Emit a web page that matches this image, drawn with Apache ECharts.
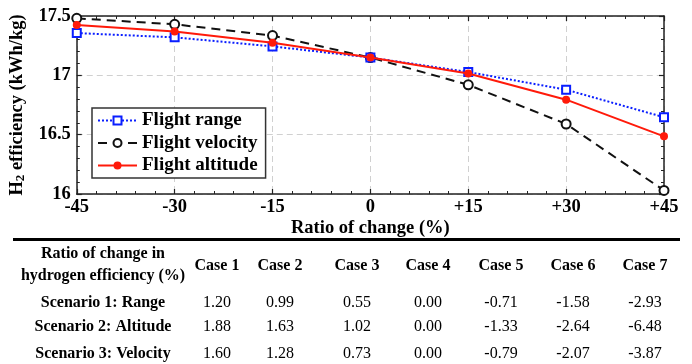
<!DOCTYPE html>
<html>
<head>
<meta charset="utf-8">
<script src="https://cdn.jsdelivr.net/npm/echarts@6/dist/echarts.min.js"></script>
<style>
html,body{margin:0;padding:0;background:#fff;}
#c{width:692px;height:364px;}
</style>
</head>
<body>
<div id="c"></div>
<script>
// ---- chart data ----
const xValues = [-45, -30, -15, 0, 15, 30, 45];
const rangeVals = [17.356, 17.32, 17.244, 17.15, 17.028, 16.879, 16.647];
const velocityVals = [17.48, 17.43, 17.335, 17.15, 16.92, 16.59, 16.03];
const altitudeVals = [17.424, 17.37, 17.275, 17.15, 17.015, 16.795, 16.486];
const seriesNames = ['Flight range', 'Flight velocity', 'Flight altitude'];

// ---- table data ----
const headerLines = ['Ratio of change in', 'hydrogen efficiency (%)'];
const caseLabels = ['Case 1', 'Case 2', 'Case 3', 'Case 4', 'Case 5', 'Case 6', 'Case 7'];
const scenarioLabels = ['Scenario 1: Range', 'Scenario 2: Altitude', 'Scenario 3: Velocity'];
const rangePct = ['1.20', '0.99', '0.55', '0.00', '-0.71', '-1.58', '-2.93'];
const altitudePct = ['1.88', '1.63', '1.02', '0.00', '-1.33', '-2.64', '-6.48'];
const velocityPct = ['1.60', '1.28', '0.73', '0.00', '-0.79', '-2.07', '-3.87'];

const FONT = '"Liberation Serif", "Times New Roman", serif';
const chart = echarts.init(document.getElementById('c'), null, {renderer: 'canvas'});

function pair(vals) { return xValues.map((x, i) => [x, vals[i]]); }

// table graphics
const tableRows = [rangePct, altitudePct, velocityPct];
const labelColX = 103;
const colX = [217, 280, 357, 428, 501, 573, 645];
const rowY = [303, 327, 354];
const graphics = [];
graphics.push({type: 'line', shape: {x1: 13, y1: 239.5, x2: 680, y2: 239.5}, style: {stroke: '#000', lineWidth: 3}});
headerLines.forEach((t, i) => {
  graphics.push({type: 'text', x: labelColX, y: 254 + i * 22, style: {text: t, font: 'bold 16px ' + FONT, fill: '#000', textAlign: 'center', textVerticalAlign: 'middle'}});
});
caseLabels.forEach((t, j) => {
  graphics.push({type: 'text', x: colX[j], y: 266, style: {text: t, font: 'bold 16px ' + FONT, fill: '#000', textAlign: 'center', textVerticalAlign: 'middle'}});
});
scenarioLabels.forEach((t, i) => {
  graphics.push({type: 'text', x: labelColX, y: rowY[i], style: {text: t, font: 'bold 16px ' + FONT, fill: '#000', textAlign: 'center', textVerticalAlign: 'middle'}});
  tableRows[i].forEach((v, j) => {
    graphics.push({type: 'text', x: colX[j], y: rowY[i], style: {text: v, font: '16px ' + FONT, fill: '#000', textAlign: 'center', textVerticalAlign: 'middle'}});
  });
});

const axisLine = {show: true, onZero: false, lineStyle: {color: '#222', width: 1.5}};
const tick = {show: true, inside: true, length: 5, lineStyle: {color: '#222', width: 1.2}};
const minor = {show: true, splitNumber: 5, length: 3, lineStyle: {color: '#222', width: 1}};
const option = {
  animation: false,
  backgroundColor: '#fff',
  textStyle: {fontFamily: FONT},
  grid: {left: 75, right: 28, top: 16, bottom: 170, containLabel: false},
  legend: {
    orient: 'vertical', left: 92, top: 108,
    backgroundColor: '#fff', borderColor: '#333', borderWidth: 1.5,
    padding: [3, 8, 3, 5], itemGap: 3.5, itemWidth: 39, itemHeight: 10,
    textStyle: {fontFamily: FONT, fontWeight: 'bold', fontSize: 19, color: '#000'},
    data: seriesNames
  },
  xAxis: [{
    type: 'value', min: -45, max: 45, interval: 15,
    name: 'Ratio of change (%)', nameLocation: 'middle', nameGap: 25,
    nameTextStyle: {fontFamily: FONT, fontWeight: 'bold', fontSize: 18.5, color: '#000'},
    axisLine: axisLine, axisTick: tick, minorTick: minor,
    axisLabel: {fontFamily: FONT, fontWeight: 'bold', fontSize: 18.5, color: '#000', margin: 4,
      formatter: v => v > 0 ? '+' + v : String(v)},
    splitLine: {show: true, lineStyle: {color: '#d0d0d0', type: [6, 4], width: 1}}
  }, {
    type: 'value', min: -45, max: 45, interval: 15, position: 'top',
    axisLine: axisLine, axisTick: tick, minorTick: minor,
    axisLabel: {show: false}, splitLine: {show: false}
  }],
  yAxis: [{
    type: 'value', min: 16, max: 17.5, interval: 0.5,
    name: '{b|H}{s|2}{b| efficiency (kWh/kg)}', nameLocation: 'middle', nameGap: 40, nameRotate: 90,
    nameTextStyle: {rich: {
      b: {fontFamily: FONT, fontWeight: 'bold', fontSize: 18.5, color: '#000'},
      s: {fontFamily: FONT, fontWeight: 'bold', fontSize: 13, color: '#000', verticalAlign: 'bottom', padding: [7, 0, 0, 0]}
    }},
    axisLine: axisLine, axisTick: tick, minorTick: minor,
    axisLabel: {fontFamily: FONT, fontWeight: 'bold', fontSize: 18.5, color: '#000', margin: 6},
    splitLine: {show: true, lineStyle: {color: '#d0d0d0', type: [6, 4], width: 1}}
  }, {
    type: 'value', min: 16, max: 17.5, interval: 0.5, position: 'right',
    axisLine: axisLine, axisTick: tick, minorTick: minor,
    axisLabel: {show: false}, splitLine: {show: false}
  }],
  series: [{
    name: seriesNames[0], type: 'line', data: pair(rangeVals),
    symbol: 'emptyRect', symbolSize: 8, z: 3,
    lineStyle: {color: '#0a1eff', width: 2, type: [2, 2]},
    itemStyle: {color: '#0a1eff', borderWidth: 1.5}
  }, {
    name: seriesNames[1], type: 'line', data: pair(velocityVals),
    symbol: 'emptyCircle', symbolSize: 9, z: 2,
    lineStyle: {color: '#111', width: 2, type: [9, 6]},
    itemStyle: {color: '#111', borderWidth: 1.5}
  }, {
    name: seriesNames[2], type: 'line', data: pair(altitudeVals),
    symbol: 'circle', symbolSize: 8, z: 4,
    lineStyle: {color: '#ff1a0a', width: 2},
    itemStyle: {color: '#ff1a0a'}
  }],
  graphic: graphics
};
chart.setOption(option);
</script>
</body>
</html>
